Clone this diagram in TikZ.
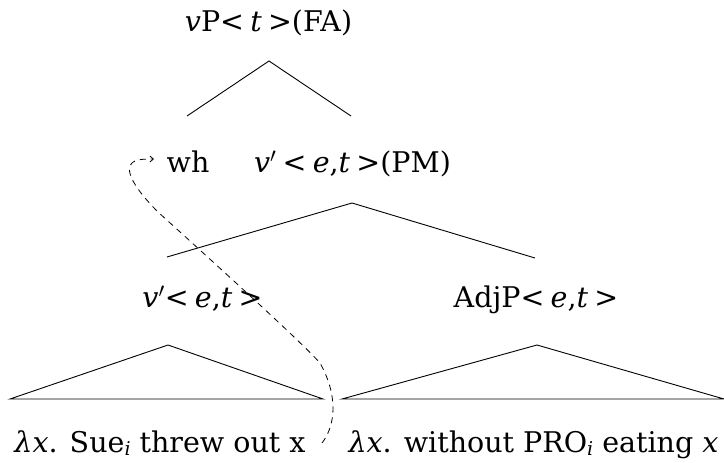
\documentclass[tikz,border=0pt]{standalone}
\usepackage{fontspec}
\setmainfont{DejaVu Serif}
\usetikzlibrary{arrows.meta}
\tikzset{
  lbl/.style={inner sep=0pt, anchor=base, font=\fontsize{28.5}{32}\selectfont},
  branch/.style={line width=0.9pt},
  movement/.style={line width=0.8pt, dash pattern=on 6pt off 5pt, -{Straight Barb[length=3.5pt,width=6pt]}}
}
\newcommand{\tsp}{\hspace{0.22em}}
\newcommand{\pr}{\ensuremath{'}}
\newcommand{\subi}{\raisebox{-0.14em}{\fontsize{19}{19}\selectfont\textit{i}}}
\begin{document}
\begin{tikzpicture}[x=1pt,y=-1pt]
\useasboundingbox (0,0) rectangle (724,463);
% labels
\node[lbl] (vP) at (268.5,31) {\textit{v}P<\tsp\textit{t}\tsp>(FA)};
\node[lbl] (wh) at (188,172) {wh};
\node[lbl] (vbarPM) at (352.5,172) {\textit{v}\pr\tsp<\tsp\textit{e},\textit{t}\tsp>(PM)};
\node[lbl] (vbar) at (202.5,307) {\textit{v}\pr<\tsp\textit{e},\textit{t}\tsp>};
\node[lbl] (adjP) at (536,307) {AdjP<\tsp\textit{e},\textit{t}\tsp>};
\node[lbl] (leftS) at (160,452) {\textit{λx}. Sue\subi{} threw out x};
\node[lbl] (rightS) at (533.5,452) {\textit{λx}. without PRO\subi{} eating \textit{x}};
% vertices
\coordinate (t1) at (269,61);
\coordinate (t1l) at (187,116);
\coordinate (t1r) at (351,116);
\coordinate (t2) at (352,203);
\coordinate (t2l) at (167,257);
\coordinate (t2r) at (535,258);
\coordinate (t3) at (168,345);
\coordinate (t3l) at (10,399);
\coordinate (t3r) at (323,399);
\coordinate (t4) at (537,345);
\coordinate (t4l) at (342,399);
\coordinate (t4r) at (724,399);
% branches
\draw[branch] (t1l) -- (t1) -- (t1r);
\draw[branch] (t2l) -- (t2) -- (t2r);
\draw[branch] (t3) -- (t3l) -- (t3r) -- cycle;
\draw[branch] (t4) -- (t4l) -- (t4r) -- cycle;
% movement
\coordinate (trace) at (322,443);
\coordinate (target) at (154,159);
\draw[movement] (trace) .. controls (336,425) and (338,395) .. (320,363)
  .. controls (300,340) and (180,232) .. (158,212)
  .. controls (138,192) and (120,168) .. (135,161)
  .. controls (140,159) and (146,159) .. (target);
\end{tikzpicture}
\end{document}
